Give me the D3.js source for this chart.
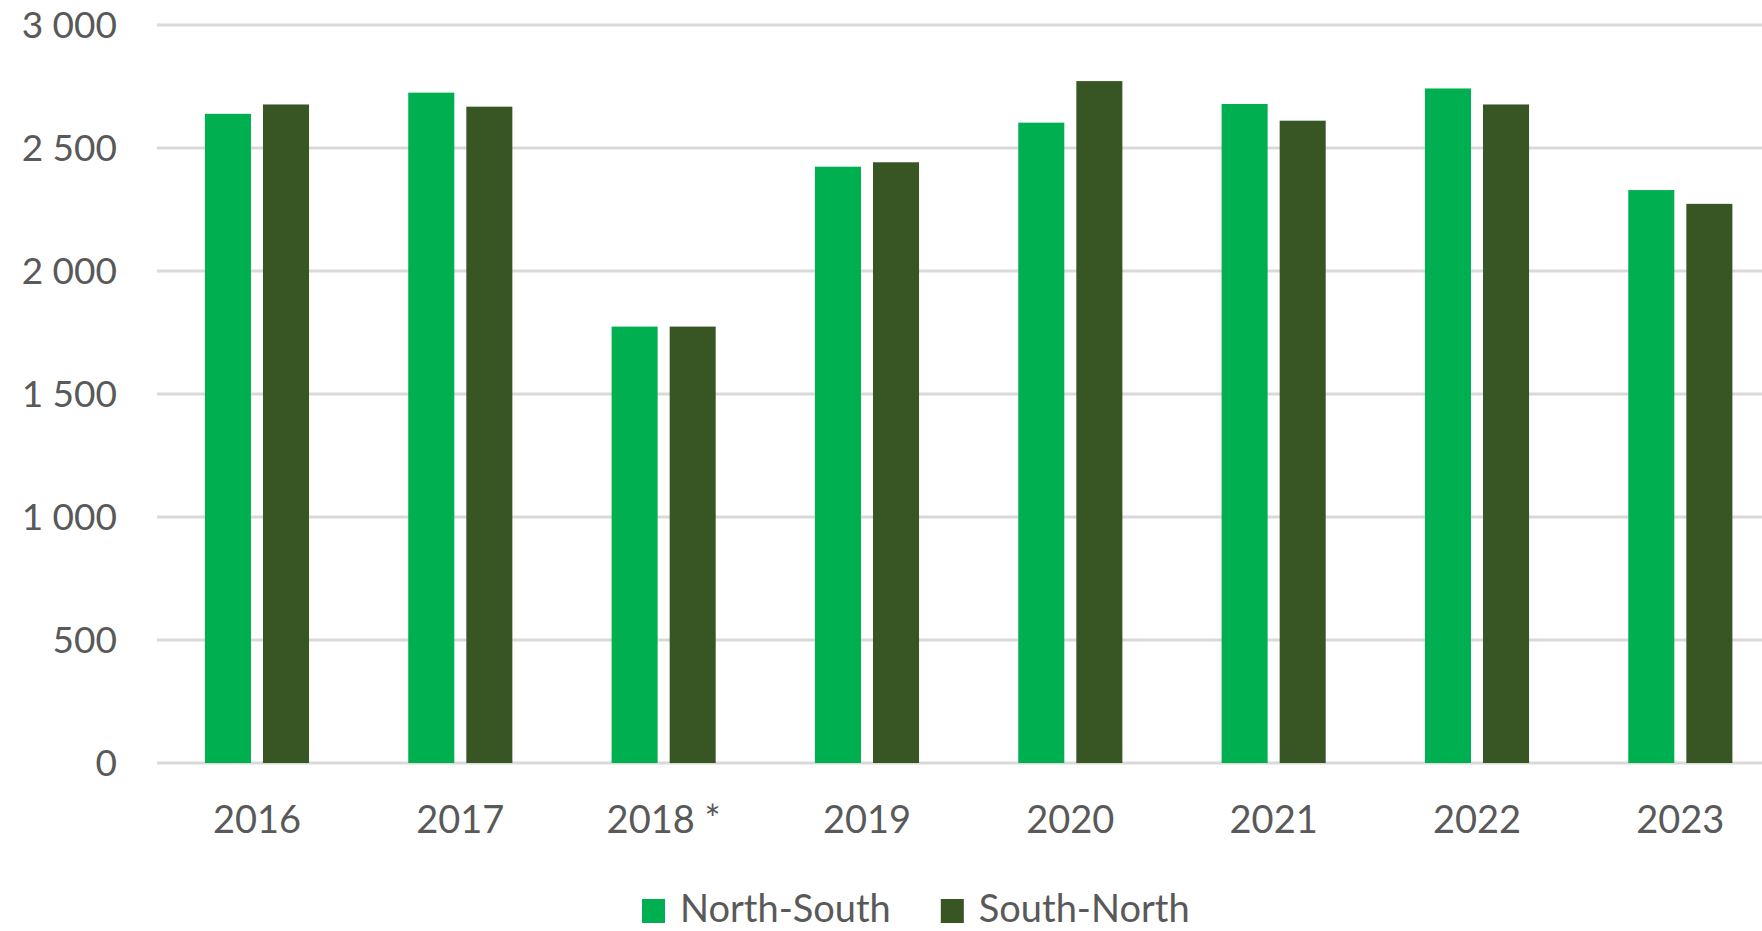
<!DOCTYPE html>
<html>
<head>
<meta charset="utf-8">
<style>
body { margin: 0; background: #fff; }
svg text { font-family: Lato, "Open Sans", sans-serif; fill: #595959; }
</style>
</head>
<body>
<svg width="1762" height="931"></svg>
<script src="https://d3js.org/d3.v7.min.js"></script>
<script>
// values
var years = ["2016", "2017", "2018 *", "2019", "2020", "2021", "2022", "2023"];
var northSouth = [2639, 2725, 1774, 2424, 2603, 2679, 2742, 2329];
var southNorth = [2677, 2668, 1774, 2442, 2772, 2611, 2677, 2273];
var seriesNames = ["North-South", "South-North"];
var yTicks = [0, 500, 1000, 1500, 2000, 2500, 3000];

var colors = ["#00b050", "#375623"];

var rows = years.map(function(y, i) {
  return { year: y, values: [northSouth[i], southNorth[i]] };
});

var svg = d3.select("svg");

// plot area runs off the right edge, as in the original crop
var x0 = d3.scaleBand()
    .domain(years)
    .range([155.3, 1782])
    .paddingInner(0.488)
    .paddingOuter(0.244);

var x1 = d3.scaleBand()
    .domain([0, 1])
    .range([0, x0.bandwidth()])
    .paddingInner(0.207);

var y = d3.scaleLinear()
    .domain([0, 3000])
    .range([763, 25]);

var fmt = d3.formatLocale({ decimal: ",", thousands: "\u00a0", grouping: [3], currency: ["", ""] }).format(",d");

// gridlines
svg.append("g")
  .selectAll("line")
  .data(yTicks)
  .enter().append("line")
    .attr("x1", 157)
    .attr("x2", 1762)
    .attr("y1", function(d) { return y(d); })
    .attr("y2", function(d) { return y(d); })
    .attr("stroke", "#d9d9d9")
    .attr("stroke-width", 3);

// y labels
svg.append("g")
  .selectAll("text")
  .data(yTicks)
  .enter().append("text")
    .attr("x", 117)
    .attr("y", function(d) { return y(d); })
    .attr("dy", "0.36em")
    .attr("text-anchor", "end")
    .attr("font-size", 37)
    .text(function(d) { return fmt(d); });

// bars
var groups = svg.append("g")
  .selectAll("g")
  .data(rows)
  .enter().append("g")
    .attr("transform", function(d) { return "translate(" + x0(d.year) + ",0)"; });

groups.selectAll("rect")
  .data(function(d) { return d.values; })
  .enter().append("rect")
    .attr("x", function(d, i) { return x1(i); })
    .attr("width", x1.bandwidth())
    .attr("y", function(d) { return y(d); })
    .attr("height", function(d) { return y(0) - y(d); })
    .attr("fill", function(d, i) { return colors[i]; });

// x labels
svg.append("g")
  .selectAll("text")
  .data(years)
  .enter().append("text")
    .attr("x", function(d) { return x0(d) + x0.bandwidth() / 2; })
    .attr("y", 833)
    .attr("text-anchor", "middle")
    .attr("font-size", 38)
    .text(function(d) { return d; });

// legend
var legend = svg.append("g");
var lx = 642;
seriesNames.forEach(function(name, i) {
  legend.append("rect")
    .attr("x", lx)
    .attr("y", 899)
    .attr("width", 23)
    .attr("height", 24)
    .attr("fill", colors[i]);
  var t = legend.append("text")
    .attr("x", lx + 38)
    .attr("y", 922)
    .attr("font-size", 38)
    .text(name);
  lx = lx + 38 + t.node().getComputedTextLength() + 50;
});
</script>
</body>
</html>
